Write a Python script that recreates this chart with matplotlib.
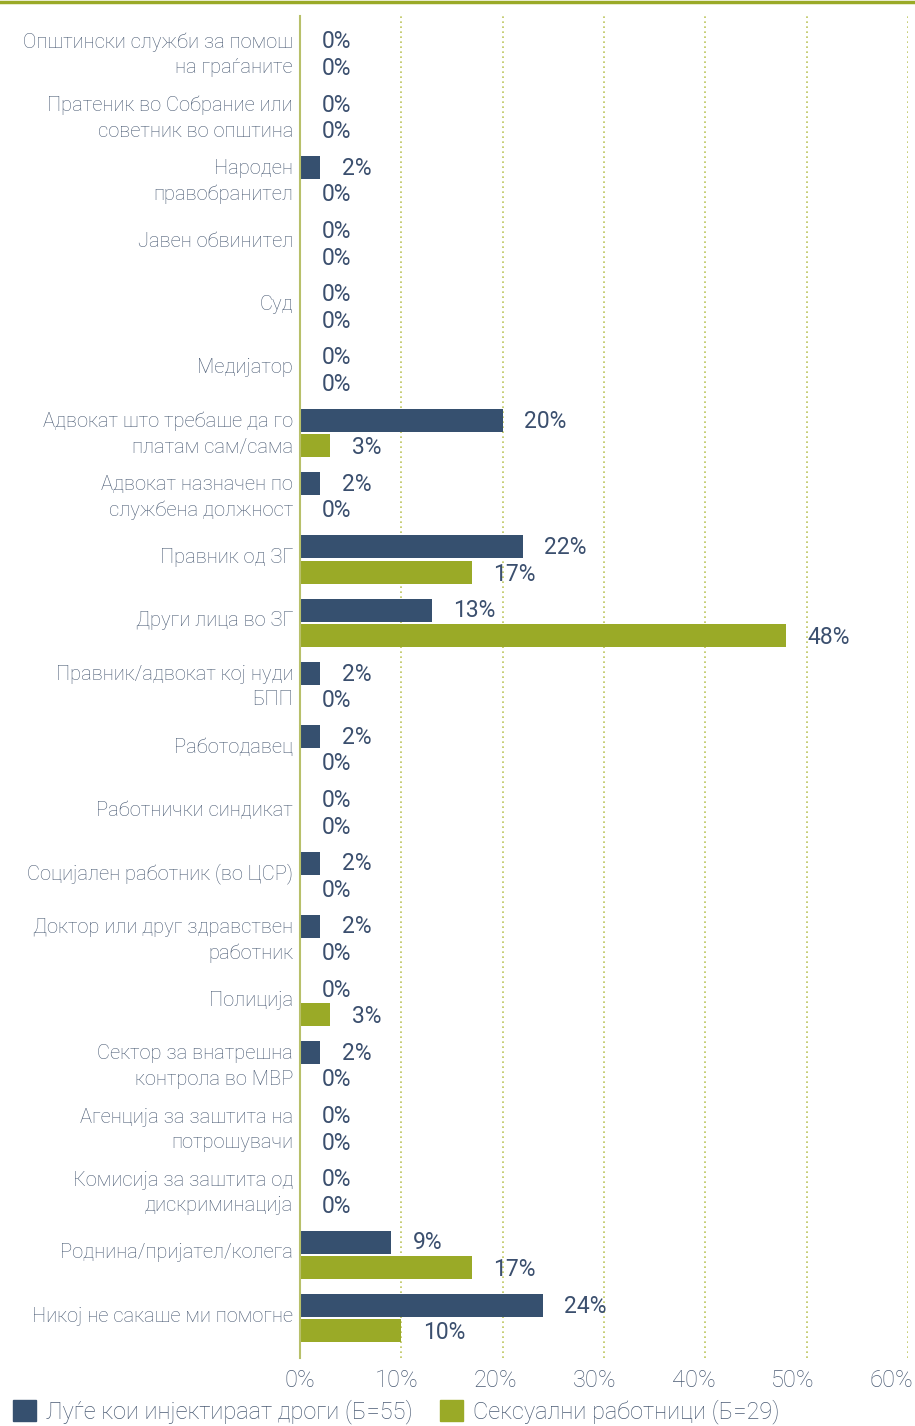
import numpy as np
import matplotlib
matplotlib.use('Agg')
import matplotlib.pyplot as plt
import matplotlib.transforms as mtransforms
from matplotlib.patches import Patch
from matplotlib.lines import Line2D

plt.rcParams['font.family'] = ['Roboto', 'DejaVu Sans']

categories = [
    "Општински служби за помош\nна граѓаните",
    "Пратеник во Собрание или\nсоветник во општина",
    "Народен\nправобранител",
    "Јавен обвинител",
    "Суд",
    "Медијатор",
    "Адвокат што требаше да го\nплатам сам/сама",
    "Адвокат назначен по\nслужбена должност",
    "Правник од ЗГ",
    "Други лица во ЗГ",
    "Правник/адвокат кој нуди\nБПП",
    "Работодавец",
    "Работнички синдикат",
    "Социјален работник (во ЦСР)",
    "Доктор или друг здравствен\nработник",
    "Полиција",
    "Сектор за внатрешна\nконтрола во МВР",
    "Агенција за заштита на\nпотрошувачи",
    "Комисија за заштита од\nдискриминација",
    "Роднина/пријател/колега",
    "Никој не сакаше ми помогне",
]
pwid = [0, 0, 2, 0, 0, 0, 20, 2, 22, 13, 2, 2, 0, 2, 2, 0, 2, 0, 0, 9, 24]
sw = [0, 0, 0, 0, 0, 0, 3, 0, 17, 48, 0, 0, 0, 0, 0, 3, 0, 0, 0, 17, 10]
series_names = ["Луѓе кои инјектираат дроги (Б=55)", "Сексуални работници (Б=29)"]
xticks = [0, 10, 20, 30, 40, 50, 60]

BLUE = '#36506f'
GREEN = '#9aaa27'
VAL_COL = '#3b4f6e'
LAB_COL = '#4a5b74'
GRID_COL = '#bcc55c'

W, H = 915, 1426
fig = plt.figure(figsize=(W / 100, H / 100), dpi=100)
ax = fig.add_axes([300 / W, 68 / H, 608 / W, 1342 / H])

y = np.arange(len(categories))
bh = 0.364
ax.barh(y - 0.2, pwid, height=bh, color=BLUE, zorder=3)
ax.barh(y + 0.2, sw, height=bh, color=GREEN, zorder=3)

for i in range(len(categories)):
    ax.text(pwid[i] + 2.1, y[i] - 0.19, '%d%%' % pwid[i], ha='left', va='center',
            fontsize=16.5, color=VAL_COL, zorder=4)
    ax.text(sw[i] + 2.1, y[i] + 0.23, '%d%%' % sw[i], ha='left', va='center',
            fontsize=16.5, color=VAL_COL, zorder=4)

ax.set_xlim(0, 60)
ax.set_ylim(20.63, -0.60)
ax.set_yticks(y)
ax.set_yticklabels(categories, fontsize=14.5, color=LAB_COL, fontweight='light',
                   linespacing=1.42)
ax.set_xticks(xticks)
ax.set_xticklabels(['%d%%' % t for t in xticks], fontsize=17, color=LAB_COL,
                   fontweight='light')
ax.tick_params(axis='both', length=0)
ax.tick_params(axis='y', pad=5)
ax.tick_params(axis='x', pad=8)

# category labels sit a few px higher than the group centres
for lab in ax.get_yticklabels():
    lab.set_transform(lab.get_transform() +
                      mtransforms.ScaledTranslation(0, 4 / 100, fig.dpi_scale_trans))

# the x tick labels sit a little left of their gridlines in the original
for t, lab in zip(xticks, ax.get_xticklabels()):
    dx = 0 if t == 0 else -(2 + 0.24 * t)
    lab.set_transform(lab.get_transform() +
                      mtransforms.ScaledTranslation(dx / 100, 0, fig.dpi_scale_trans))

ax.xaxis.grid(True, linestyle=(0, (1, 2)), color=GRID_COL, linewidth=1.2, zorder=0)
for s in ['top', 'right', 'bottom']:
    ax.spines[s].set_visible(False)
ax.spines['left'].set_color('#b8c06a')
ax.spines['left'].set_linewidth(1.5)
ax.spines['left'].set_zorder(5)

# green line on top of the figure
fig.add_artist(Line2D([0, 1], [1 - 1.5 / H, 1 - 1.5 / H], color=GREEN, linewidth=2.5,
                      transform=fig.transFigure))

handles = [Patch(color=BLUE), Patch(color=GREEN)]
fig.legend(handles, series_names, loc='lower left', bbox_to_anchor=(13 / W, 2 / H),
           ncol=2, frameon=False, handlelength=0.97, handleheight=0.97,
           handletextpad=0.42, columnspacing=1.15, borderpad=0, borderaxespad=0,
           labelcolor=LAB_COL, prop={'weight': 'light', 'size': 17})

fig.savefig('out.png', dpi=100)
